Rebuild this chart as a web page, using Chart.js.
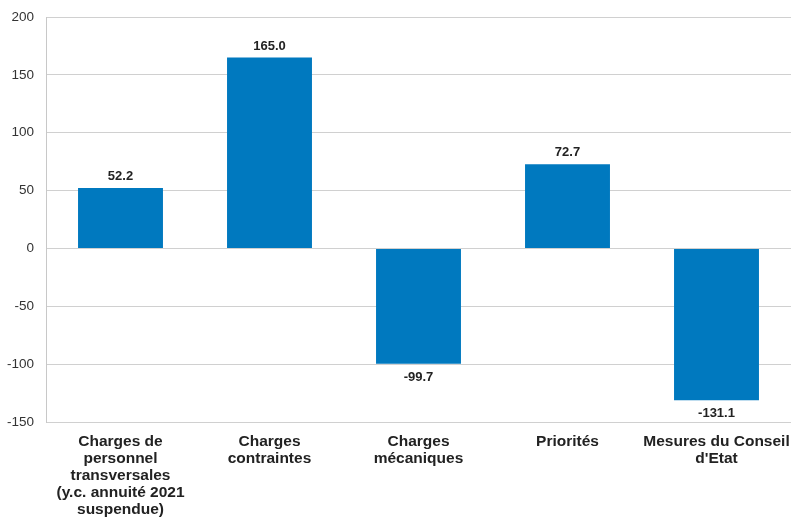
<!DOCTYPE html>
<html>
<head>
<meta charset="utf-8">
<script src="https://cdn.jsdelivr.net/npm/chart.js@4"></script>
<style>
html,body{margin:0;padding:0;background:#fff;}
#wrap{width:791px;height:518px;position:relative;}
</style>
</head>
<body>
<div id="wrap"><canvas id="c" width="791" height="518"></canvas></div>
<script>
const categories = [
  ["Charges de", "personnel", "transversales", "(y.c. annuité 2021", "suspendue)"],
  ["Charges", "contraintes"],
  ["Charges", "mécaniques"],
  ["Priorités"],
  ["Mesures du Conseil", "d'Etat"]
];
const values = [52.2, 165.0, -99.7, 72.7, -131.1];
const yMin = -150, yMax = 200, yStep = 50;

const labelPlugin = {
  id: 'valLabels',
  afterDatasetsDraw(chart) {
    const ctx = chart.ctx;
    const meta = chart.getDatasetMeta(0);
    ctx.save();
    ctx.font = 'bold 13px "Liberation Sans", Arial, sans-serif';
    ctx.fillStyle = '#222';
    ctx.textAlign = 'center';
    meta.data.forEach((bar, i) => {
      const v = values[i];
      if (v >= 0) {
        ctx.textBaseline = 'alphabetic';
        ctx.fillText(v.toFixed(1), bar.x, bar.y - 8);
      } else {
        ctx.textBaseline = 'top';
        ctx.fillText(v.toFixed(1), bar.x, bar.y + 7);
      }
    });
    ctx.restore();
  }
};

new Chart(document.getElementById('c'), {
  type: 'bar',
  data: {
    labels: categories,
    datasets: [{
      data: values,
      backgroundColor: '#0079BF',
      barPercentage: 0.57,
      categoryPercentage: 1.0
    }]
  },
  options: {
    responsive: false,
    animation: false,
    layout: { padding: { top: 17, right: 0, left: 0, bottom: 0 } },
    plugins: { legend: { display: false }, tooltip: { enabled: false } },
    scales: {
      x: {
        grid: { display: false, drawTicks: false },
        border: { display: false },
        ticks: {
          color: '#222',
          font: { family: '"Liberation Sans", Arial, sans-serif', size: 15.5, weight: 'bold', lineHeight: 1.1 },
          padding: 11,
          maxRotation: 0,
          autoSkip: false
        },
        afterFit(s) { s.height = 96; s.paddingLeft = 0; s.paddingRight = 0; }
      },
      y: {
        min: yMin, max: yMax,
        ticks: {
          stepSize: yStep,
          color: '#333',
          font: { family: '"Liberation Sans", Arial, sans-serif', size: 13.5 },
          padding: 12
        },
        grid: { color: '#d0d0d0', lineWidth: 1, drawTicks: false },
        border: { display: true, color: '#c8c8c8', width: 1 },
        afterFit(s) { s.width = 46; s.paddingTop = 0; s.paddingBottom = 0; }
      }
    }
  },
  plugins: [labelPlugin]
});
</script>
</body>
</html>
